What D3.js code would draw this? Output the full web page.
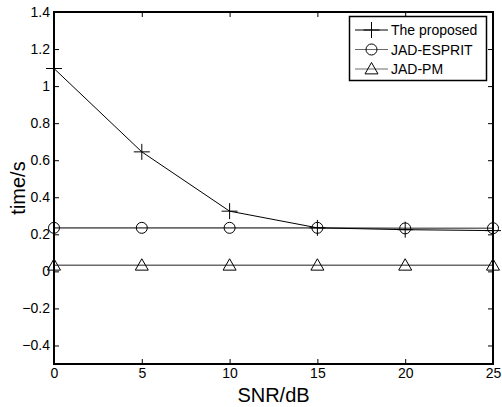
<!DOCTYPE html>
<html>
<head>
<meta charset="utf-8">
<script src="https://cdn.jsdelivr.net/npm/d3@7"></script>
<style>
  body { margin: 0; background: #fff; }
  svg { font-family: "Liberation Sans", Arial, sans-serif; }
</style>
</head>
<body>
<svg id="chart" width="502" height="407"></svg>
<script>
const snr = [0, 5, 10, 15, 20, 25];
const proposed = [1.095, 0.645, 0.325, 0.235, 0.225, 0.22];
const esprit = [0.235, 0.235, 0.235, 0.235, 0.232, 0.233];
const pm = [0.033, 0.033, 0.033, 0.033, 0.033, 0.033];
const xTicks = [0, 5, 10, 15, 20, 25];
const yTicks = [-0.4, -0.2, 0, 0.2, 0.4, 0.6, 0.8, 1, 1.2, 1.4];

const margin = {top: 12, right: 9, bottom: 43, left: 54};
const width = 502, height = 407;

const svg = d3.select("#chart");

const x = d3.scaleLinear().domain([0, 25]).range([margin.left, width - margin.right]);
const y = d3.scaleLinear().domain([-0.5, 1.4]).range([height - margin.bottom, margin.top]);

// ticks (inward, on all four sides)
const fmt = d => d3.format("")(+d.toFixed(1));
svg.append("g")
    .attr("transform", `translate(0,${height - margin.bottom})`)
    .call(d3.axisBottom(x).tickValues(xTicks).tickSize(-5).tickSizeOuter(0).tickPadding(4))
    .call(g => g.select(".domain").remove());
svg.append("g")
    .attr("transform", `translate(0,${margin.top})`)
    .call(d3.axisTop(x).tickValues(xTicks).tickSize(-5).tickSizeOuter(0).tickFormat(""))
    .call(g => g.select(".domain").remove());
svg.append("g")
    .attr("transform", `translate(${margin.left},0)`)
    .call(d3.axisLeft(y).tickValues(yTicks).tickSize(-5).tickSizeOuter(0).tickPadding(4).tickFormat(fmt))
    .call(g => g.select(".domain").remove());
svg.append("g")
    .attr("transform", `translate(${width - margin.right},0)`)
    .call(d3.axisRight(y).tickValues(yTicks).tickSize(-5).tickSizeOuter(0).tickFormat(""))
    .call(g => g.select(".domain").remove());

svg.selectAll(".tick line").attr("stroke", "#000").attr("stroke-width", 1);
svg.selectAll(".tick text").attr("font-size", 14).attr("fill", "#000")
    .attr("font-family", "Liberation Sans, Arial, sans-serif");

// series
const line = d3.line().x((d, i) => x(snr[i])).y(d => y(d));

function triangle(cx, cy, r) {
    return `M${cx},${cy - r}L${cx + r},${cy + r * 0.75}L${cx - r},${cy + r * 0.75}Z`;
}

function drawMarker(g, kind, cx, cy) {
    if (kind === "plus") {
        g.append("path")
            .attr("d", `M${cx - 8},${cy}H${cx + 8}M${cx},${cy - 8}V${cy + 8}`)
            .attr("stroke", "#000").attr("stroke-width", 1).attr("fill", "none");
    } else if (kind === "circle") {
        g.append("circle").attr("cx", cx).attr("cy", cy).attr("r", 5.5)
            .attr("stroke", "#000").attr("stroke-width", 1).attr("fill", "none");
    } else {
        g.append("path").attr("d", triangle(cx, cy, 6.5))
            .attr("stroke", "#000").attr("stroke-width", 1).attr("fill", "none");
    }
}

const series = [
    {name: "JAD-PM", values: pm, color: "#6a6a6a", marker: "tri"},
    {name: "JAD-ESPRIT", values: esprit, color: "#6a6a6a", marker: "circle"},
    {name: "The proposed", values: proposed, color: "#000", marker: "plus"}
];

const plot = svg.append("g");
series.forEach(s => {
    plot.append("path")
        .attr("d", line(s.values))
        .attr("fill", "none")
        .attr("stroke", s.color)
        .attr("stroke-width", s.color === "#000" ? 1 : 1.6);
    s.values.forEach((v, i) => drawMarker(plot, s.marker, x(snr[i]), y(v)));
});

// frame
svg.append("rect")
    .attr("x", margin.left).attr("y", margin.top)
    .attr("width", width - margin.left - margin.right)
    .attr("height", height - margin.top - margin.bottom)
    .attr("fill", "none").attr("stroke", "#000").attr("stroke-width", 2);

// legend
const legend = svg.append("g");
legend.append("rect")
    .attr("x", 349.5).attr("y", 16.5).attr("width", 137).attr("height", 64)
    .attr("fill", "#fff").attr("stroke", "#000").attr("stroke-width", 1.5);
[...series].reverse().forEach((s, i) => {
    const ly = 30 + i * 19.5;
    legend.append("line")
        .attr("x1", 355).attr("x2", 388).attr("y1", ly).attr("y2", ly)
        .attr("stroke", s.color).attr("stroke-width", 1);
    drawMarker(legend, s.marker, 371.5, ly);
    legend.append("text")
        .attr("x", 391).attr("y", ly).attr("dy", "0.36em")
        .attr("font-size", 14).text(s.name);
});

// axis titles
svg.append("text")
    .attr("x", (margin.left + width - margin.right) / 2).attr("y", 402)
    .attr("text-anchor", "middle").attr("font-size", 20).text("SNR/dB");
svg.append("text")
    .attr("transform", `translate(25,${(margin.top + height - margin.bottom) / 2}) rotate(-90)`)
    .attr("text-anchor", "middle").attr("font-size", 20).text("time/s");
</script>
</body>
</html>
